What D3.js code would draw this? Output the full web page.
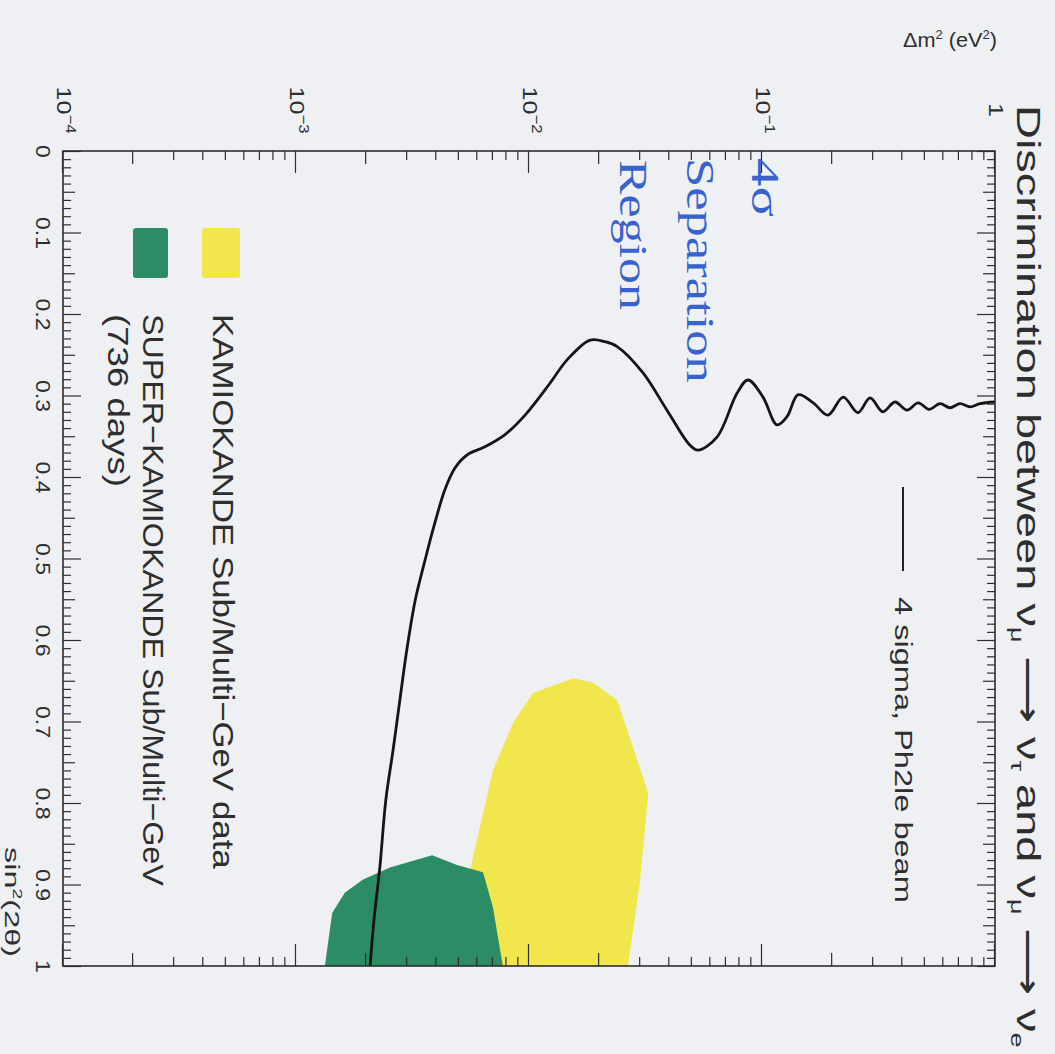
<!DOCTYPE html>
<html>
<head>
<meta charset="utf-8">
<script src="https://cdn.jsdelivr.net/npm/d3@7"></script>
<style>
  html, body { margin: 0; padding: 0; background: #eef0f3; }
  svg { display: block; }
</style>
</head>
<body>
<svg id="chart" width="1055" height="1054"></svg>
<script>
// 4 sigma discrimination contour (Ph2le beam): Δm² (eV²) and sin²(2θ)
const curveDm2 = [2.08e-3, 2.16e-3, 2.29e-3, 2.43e-3, 2.61e-3, 2.79e-3, 2.99e-3, 3.25e-3,
  3.58e-3, 3.87e-3, 4.35e-3, 4.81e-3, 5.42e-3, 6.47e-3, 7.89e-3, 9.62e-3, 1.23e-2, 1.46e-2,
  1.83e-2, 2.12e-2, 2.39e-2, 3.08e-2, 3.91e-2, 4.91e-2, 5.31e-2, 6.41e-2, 7.82e-2, 8.71e-2,
  0.101, 0.116, 0.128, 0.143, 0.166, 0.192, 0.223, 0.258, 0.291, 0.330, 0.372, 0.419,
  0.468, 0.521, 0.581, 0.641, 0.708, 0.782, 0.863, 1.0];
const curveSin2 = [1.000, 0.944, 0.879, 0.796, 0.735, 0.674, 0.612, 0.551,
  0.502, 0.465, 0.416, 0.389, 0.373, 0.363, 0.348, 0.324, 0.285, 0.256,
  0.232, 0.234, 0.240, 0.272, 0.318, 0.361, 0.367, 0.351, 0.297, 0.281,
  0.302, 0.336, 0.326, 0.299, 0.309, 0.324, 0.302, 0.321, 0.303, 0.320, 0.308, 0.318,
  0.309, 0.317, 0.310, 0.315, 0.310, 0.314, 0.310, 0.308];

// KAMIOKANDE Sub/Multi-GeV allowed region
const kamDm2 = [2.66e-2, 2.99e-2, 3.25e-2, 2.79e-2, 2.39e-2, 1.88e-2, 1.55e-2, 1.04e-2,
  8.53e-3, 7.0e-3, 5.98e-3, 5.47e-3, 5.15e-3];
const kamSin2 = [1.0, 0.898, 0.788, 0.731, 0.674, 0.652, 0.647, 0.665,
  0.702, 0.760, 0.845, 0.894, 1.0];

// SUPER-KAMIOKANDE Sub/Multi-GeV (736 days) allowed region
const skDm2 = [1.33e-3, 1.43e-3, 1.62e-3, 1.94e-3, 2.53e-3, 3.84e-3, 4.91e-3, 6.35e-3, 7.0e-3, 7.72e-3];
const skSin2 = [1.0, 0.935, 0.910, 0.894, 0.879, 0.864, 0.876, 0.885, 0.928, 1.0];

// axis ticks and labels
const decadeTicks = [1e-4, 1e-3, 1e-2, 1e-1, 1];
const decadeBase = ["10", "10", "10", "10", "1"];
const decadeExp = ["\u22124", "\u22123", "\u22122", "\u22121", ""];
const sinMajor = [0, 0.1, 0.2, 0.3, 0.4, 0.5, 0.6, 0.7, 0.8, 0.9, 1];
const sinLabels = ["0", "0.1", "0.2", "0.3", "0.4", "0.5", "0.6", "0.7", "0.8", "0.9", "1"];

const legendLabels = ["KAMIOKANDE Sub/Multi\u2212GeV data", "SUPER\u2212KAMIOKANDE Sub/Multi\u2212GeV", "(736 days)"];
const curveLabel = "4 sigma, Ph2le beam";
const regionLabel = ["4\u03c3", "Separation", "Region"];

const colYellow = "#f1e64c";
const colGreen = "#2b8c66";
const colBlue = "#3a62cf";
const colInk = "#2e2e2e";

const svg = d3.select("#chart");

// The figure is laid out in its own frame (sin²(2θ) across, Δm² up) and turned a quarter turn.
const W = 815, H = 932;
const g = svg.append("g").attr("transform", "translate(995,151) rotate(90)");

const x = d3.scaleLinear().domain([0, 1]).range([0, W]);
const y = d3.scaleLog().domain([1e-4, 1]).range([H, 0]);

g.append("defs").append("clipPath").attr("id", "plotClip")
  .append("rect").attr("x", 0).attr("y", 0).attr("width", W).attr("height", H);

const sans = "'Liberation Sans', Arial, Helvetica, sans-serif";

// stretch a text element along its run so it covers a given length
function fit(sel, px, py, len) {
  const node = sel.node();
  const nat = node.getComputedTextLength();
  const k = nat > 0 ? len / nat : 1;
  sel.attr("x", 0).attr("y", 0).attr("transform", `translate(${px},${py}) scale(${k},1)`);
  return sel;
}

// allowed regions
const area = d3.line().x(d => x(d[1])).y(d => y(d[0])).curve(d3.curveLinearClosed);
const plot = g.append("g").attr("clip-path", "url(#plotClip)");
plot.append("path").datum(d3.zip(kamDm2, kamSin2)).attr("d", area).attr("fill", colYellow);
plot.append("path").datum(d3.zip(skDm2, skSin2)).attr("d", area).attr("fill", colGreen);

// 4 sigma contour
const line = d3.line().x(d => x(d[1])).y(d => y(d[0])).curve(d3.curveCatmullRom.alpha(0.5));
plot.append("path").datum(d3.zip(curveDm2, curveSin2)).attr("d", line)
  .attr("fill", "none").attr("stroke", "#151515").attr("stroke-width", 2.8)
  .attr("stroke-linejoin", "round");

// ticks
const sinTicks = d3.range(0, 101).map(i => i / 100);
const logTicks = [];
decadeTicks.slice(0, 4).forEach(d => { for (let m = 1; m <= 9; m++) logTicks.push(d * m); });
logTicks.push(1);

function sinLen(v) {
  const i = Math.round(v * 100);
  if (i % 10 === 0) return 18;
  if (i % 5 === 0) return 12;
  return 8;
}
function logLen(v) {
  const e = Math.log10(v);
  const m = Math.round(v / Math.pow(10, Math.floor(e + 1e-9)));
  if (Math.abs(e - Math.round(e)) < 1e-6) return 22;
  if (m === 2) return 13;
  return 9;
}

function styleAxis(ax, lenFn, sign, horiz) {
  ax.select(".domain").remove();
  ax.selectAll(".tick line")
    .attr(horiz ? "y2" : "x2", d => sign * lenFn(d))
    .attr("stroke", colInk).attr("stroke-width", 1.2);
}

const axB = g.append("g").attr("transform", `translate(0,${H})`)
  .call(d3.axisBottom(x).tickValues(sinTicks).tickSize(-8).tickPadding(13)
    .tickFormat(d => { const i = sinMajor.findIndex(v => Math.abs(v - d) < 1e-9); return i >= 0 ? sinLabels[i] : ""; }));
styleAxis(axB, sinLen, -1, true);
axB.selectAll(".tick text").attr("font-family", sans).attr("font-size", 20).attr("fill", colInk)
  .attr("transform", "scale(1.15,1)");

const axT = g.append("g").call(d3.axisTop(x).tickValues(sinTicks).tickSize(-8).tickFormat(""));
styleAxis(axT, sinLen, 1, true);

const axL = g.append("g").call(d3.axisLeft(y).tickValues(logTicks).tickSize(-9).tickFormat(""));
styleAxis(axL, logLen, 1, false);

const axR = g.append("g").attr("transform", `translate(${W},0)`)
  .call(d3.axisRight(y).tickValues(logTicks).tickSize(-9).tickFormat(""));
styleAxis(axR, logLen, -1, false);

// decade labels on the Δm² axis
decadeTicks.forEach((d, i) => {
  const t = g.append("text").attr("font-family", sans).attr("font-size", 21).attr("fill", colInk)
    .attr("text-anchor", "middle");
  t.append("tspan").text(decadeBase[i]);
  if (decadeExp[i]) t.append("tspan").attr("dy", -9).attr("font-size", 14).text(decadeExp[i]);
  t.attr("transform", `translate(-41,${y(d) + 6}) scale(1.2,1)`);
});

// frame
g.append("rect").attr("x", 0).attr("y", 0).attr("width", W).attr("height", H)
  .attr("fill", "none").attr("stroke", colInk).attr("stroke-width", 1.6);

// sin²(2θ) axis title
{
  const t = g.append("text").attr("font-family", sans).attr("font-size", 20).attr("fill", colInk)
    .attr("text-anchor", "end");
  t.append("tspan").text("sin");
  t.append("tspan").attr("dy", -8).attr("font-size", 12).text("2");
  t.append("tspan").attr("dy", 8).text("(2\u03b8)");
  fit(t, 806, 990, 110);
}

// title
{
  const t = g.append("text").attr("font-family", sans).attr("font-size", 33).attr("fill", colInk);
  const sub = (s) => t.append("tspan").attr("dy", 6).attr("font-size", 19).text(s);
  const back = (s) => t.append("tspan").attr("dy", -6).text(s);
  t.append("tspan").text("Discrimination between \u03bd");
  sub("\u03bc"); back(" \u27f6 \u03bd");
  sub("\u03c4"); back(" and \u03bd");
  sub("\u03bc"); back(" \u27f6 \u03bd");
  sub("e");
  fit(t, -46, -22, 940);
}

// 4σ separation label
const regionRows = [
  { oy: 243, len: 59 },
  { oy: 308, len: 225 },
  { oy: 375, len: 150 }
];
regionLabel.forEach((s, i) => {
  const t = g.append("text").attr("font-family", "'Liberation Serif', 'Times New Roman', serif")
    .attr("font-size", 40).attr("fill", colBlue).text(s);
  fit(t, i === 2 ? 9 : 7, regionRows[i].oy, regionRows[i].len);
});

// contour key
g.append("line").attr("x1", 336).attr("x2", 420).attr("y1", 92).attr("y2", 92)
  .attr("stroke", "#222").attr("stroke-width", 2);
fit(g.append("text").attr("font-family", sans).attr("font-size", 24).attr("fill", colInk).text(curveLabel),
  446, 100, 306);

// region key
g.append("rect").attr("x", 77).attr("y", 755).attr("width", 50).attr("height", 38).attr("rx", 3)
  .attr("fill", colYellow);
g.append("rect").attr("x", 77).attr("y", 827).attr("width", 50).attr("height", 35).attr("rx", 3)
  .attr("fill", colGreen);
const legendRows = [
  { oy: 782, len: 555 },
  { oy: 852, len: 572 },
  { oy: 887, len: 173 }
];
legendLabels.forEach((s, i) => {
  const t = g.append("text").attr("font-family", sans).attr("font-size", 30).attr("fill", colInk).text(s);
  fit(t, 163, legendRows[i].oy, legendRows[i].len);
});

// Δm² axis title
{
  const t = svg.append("text").attr("font-family", sans).attr("font-size", 20).attr("fill", colInk)
    .attr("text-anchor", "end");
  t.append("tspan").text("\u0394m");
  t.append("tspan").attr("dy", -8).attr("font-size", 12).text("2");
  t.append("tspan").attr("dy", 8).text(" (eV");
  t.append("tspan").attr("dy", -8).attr("font-size", 12).text("2");
  t.append("tspan").attr("dy", 8).text(")");
  fit(t, 997, 47, 94);
}
</script>
</body>
</html>
